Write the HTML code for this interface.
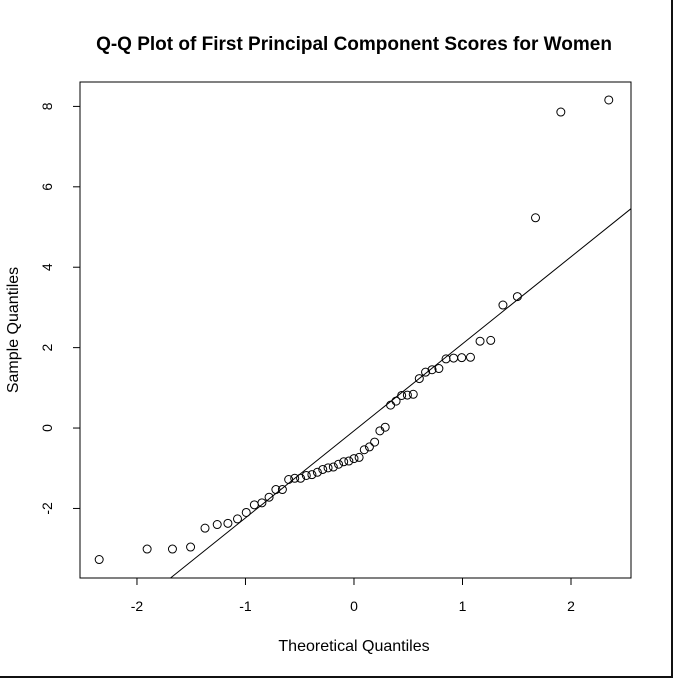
<!DOCTYPE html>
<html><head><meta charset="utf-8"><style>
html,body{margin:0;padding:0;background:#fff;}
svg{display:block;font-family:"Liberation Sans",Arial,sans-serif;}
</style></head><body>
<svg id="chart" width="673" height="678" viewBox="0 0 673 678">
<rect x="0" y="0" width="673" height="678" fill="#fff"/>
<rect x="671" y="0" width="3" height="678" fill="#111"/>
<rect x="0" y="676" width="673" height="3" fill="#111"/>
<text x="354" y="50" text-anchor="middle" font-size="19" font-weight="bold">Q-Q Plot of First Principal Component Scores for Women</text>
<text x="354" y="651" text-anchor="middle" font-size="16">Theoretical Quantiles</text>
<text transform="translate(18,330) rotate(-90)" text-anchor="middle" font-size="16">Sample Quantiles</text>
<rect x="80" y="82" width="551" height="496" fill="none" stroke="#000" stroke-width="1"/>
<g id="axes"></g><g id="marks"></g>
</svg>
<script>
const sampleValues=[-3.27,-3.01,-3.01,-2.96,-2.49,-2.40,-2.37,-2.26,-2.10,-1.91,-1.86,-1.72,-1.53,-1.53,-1.28,-1.25,-1.25,-1.18,-1.16,-1.10,-1.03,-0.99,-0.97,-0.90,-0.84,-0.82,-0.76,-0.73,-0.54,-0.47,-0.35,-0.07,0.02,0.57,0.67,0.81,0.82,0.84,1.23,1.39,1.45,1.48,1.72,1.74,1.75,1.76,2.16,2.18,3.06,3.27,5.23,7.86,8.16];
const xTicks=[-2,-1,0,1,2];
const yTicks=[-2,0,2,4,6,8];
const NS="http://www.w3.org/2000/svg";
const X0=80,X1=631,Y0=82,Y1=578;
const xMin=-2.525,xMax=2.553,yMin=-3.73,yMax=8.607;
const sx=v=>X0+(v-xMin)/(xMax-xMin)*(X1-X0);
const sy=v=>Y1-(v-yMin)/(yMax-yMin)*(Y1-Y0);
function qnorm(p){const a=[-39.69683028665376,220.9460984245205,-275.9285104469687,138.3577518672690,-30.66479806614716,2.506628277459239],b=[-54.47609879822406,161.5858368580409,-155.6989798598866,66.80131188771972,-13.28068155288572],c=[-7.784894002430293e-03,-0.3223964580411365,-2.400758277161838,-2.549732539343734,4.374664141464968,2.938163982698783],d=[7.784695709041462e-03,0.3224671290700398,2.445134137142996,3.754408661907416];let q,r;if(p<0.02425){q=Math.sqrt(-2*Math.log(p));return(((((c[0]*q+c[1])*q+c[2])*q+c[3])*q+c[4])*q+c[5])/((((d[0]*q+d[1])*q+d[2])*q+d[3])*q+1);}if(p>1-0.02425){q=Math.sqrt(-2*Math.log(1-p));return-(((((c[0]*q+c[1])*q+c[2])*q+c[3])*q+c[4])*q+c[5])/((((d[0]*q+d[1])*q+d[2])*q+d[3])*q+1);}q=p-0.5;r=q*q;return(((((a[0]*r+a[1])*r+a[2])*r+a[3])*r+a[4])*r+a[5])*q/(((((b[0]*r+b[1])*r+b[2])*r+b[3])*r+b[4])*r+1);}
function el(t,at,parent,txt){const e=document.createElementNS(NS,t);for(const k in at)e.setAttribute(k,at[k]);if(txt!==undefined)e.textContent=txt;parent.appendChild(e);return e;}
const axes=document.getElementById('axes'),marks=document.getElementById('marks');
xTicks.forEach(t=>{const x=sx(t);
const l=el('line',{x1:x,x2:x,y1:Y1,y2:Y1+7,stroke:'#000'},axes);


const tx=el('text',{x:x,y:611,'text-anchor':'middle','font-size':14},axes,String(t));

});
yTicks.forEach(t=>{const y=sy(t);
const l=el('line',{x1:X0-7,x2:X0,y1:y,y2:y,stroke:'#000'},axes);


const tx=el('text',{transform:`translate(52,${y}) rotate(-90)`,'text-anchor':'middle','font-size':14},axes,String(t));

});
const n=sampleValues.length,sorted=[...sampleValues].sort((a,b)=>a-b);
const a=n<=10?3/8:0.5;
sorted.forEach((v,i)=>{const tq=qnorm((i+1-a)/(n+1-2*a));
const c=el('circle',{cx:sx(tq),cy:sy(v),r:4,fill:'none',stroke:'#000','stroke-width':1},marks);

});
function quant(p){const h=(n-1)*p,lo=Math.floor(h);return sorted[lo]+(h-lo)*(sorted[Math.min(lo+1,n-1)]-sorted[lo]);}
const y1=quant(0.25),y2=quant(0.75),x1=qnorm(0.25),x2=qnorm(0.75);
const slope=(y2-y1)/(x2-x1),icpt=y1-slope*x1;
let xa=xMin,xb=xMax;
if(icpt+slope*xa<yMin)xa=(yMin-icpt)/slope;
if(icpt+slope*xb>yMax)xb=(yMax-icpt)/slope;
const ln=el('line',{x1:sx(xa),y1:sy(icpt+slope*xa),x2:sx(xb),y2:sy(icpt+slope*xb),stroke:'#000','stroke-width':1},marks);


</script>
</body></html>
